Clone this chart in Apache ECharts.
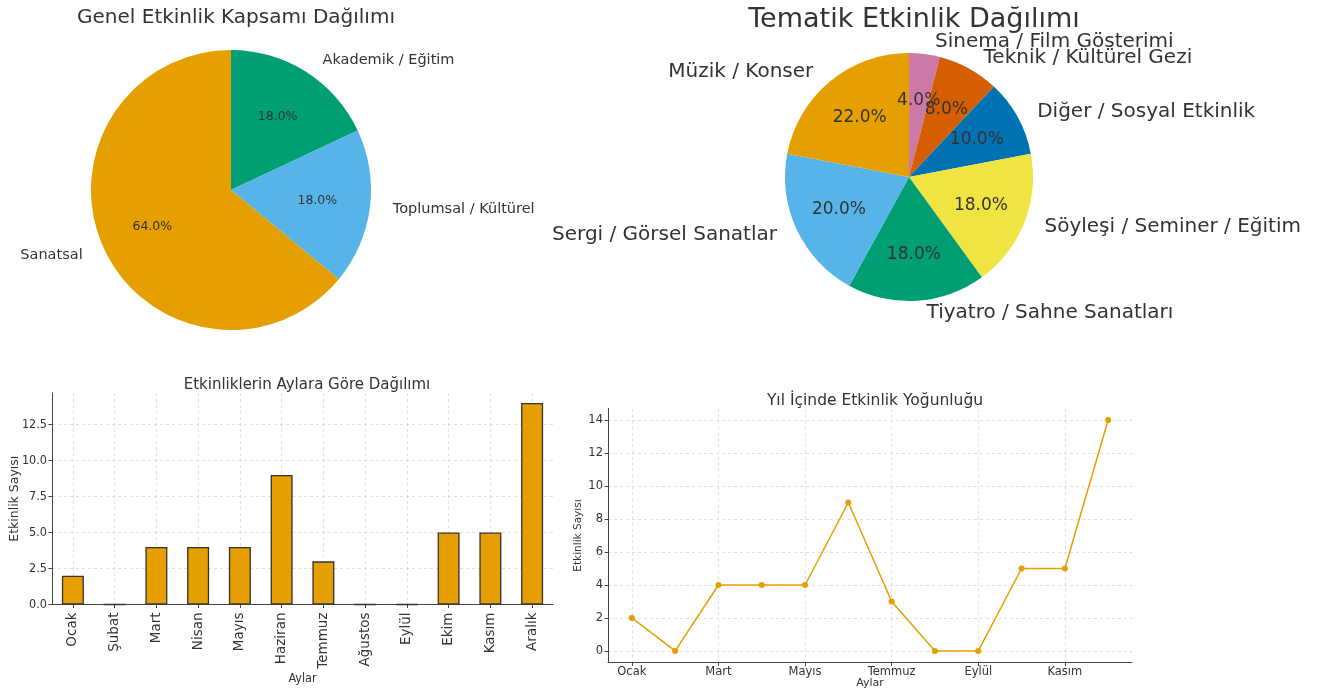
<!DOCTYPE html>
<html>
<head>
<meta charset="utf-8">
<title>Etkinlik Dağılımı</title>
<script src="https://cdn.jsdelivr.net/npm/echarts@6/dist/echarts.min.js"></script>
<style>
    html, body { margin: 0; padding: 0; background: #fff; }
    #wrap { position: relative; width: 1336px; height: 694px; overflow: hidden; }
    .panel { position: absolute; }
    #pie1 { left: 0; top: 0; width: 547px; height: 340px; }
    #pie2 { left: 542px; top: 0; width: 770px; height: 340px; }
    #bar1 { left: 0; top: 360px; width: 570px; height: 334px; }
    #line1 { left: 560px; top: 380px; width: 600px; height: 314px; }
</style>
</head>
<body>
<div id="wrap">
    <div id="pie1" class="panel"></div>
    <div id="pie2" class="panel"></div>
    <div id="bar1" class="panel"></div>
    <div id="line1" class="panel"></div>
</div>
<script>
    // veriler
    var scopeNames = ['Akademik / Eğitim', 'Toplumsal / Kültürel', 'Sanatsal'];
    var scopeCounts = [9, 9, 32];

    var themeNames = ['Sinema / Film Gösterimi', 'Teknik / Kültürel Gezi', 'Diğer / Sosyal Etkinlik',
        'Söyleşi / Seminer / Eğitim', 'Tiyatro / Sahne Sanatları', 'Sergi / Görsel Sanatlar', 'Müzik / Konser'];
    var themeCounts = [2, 4, 5, 9, 9, 10, 11];

    var months = ['Ocak', 'Şubat', 'Mart', 'Nisan', 'Mayıs', 'Haziran', 'Temmuz', 'Ağustos', 'Eylül', 'Ekim', 'Kasım', 'Aralık'];
    var monthCounts = [2, 0, 4, 4, 4, 9, 3, 0, 0, 5, 5, 14];

    var barYTicks = [0, 2.5, 5, 7.5, 10, 12.5];
    var lineYTicks = [0, 2, 4, 6, 8, 10, 12, 14];
    var lineXTicks = [0, 2, 4, 6, 8, 10];

    var scopeColors = ['#009E73', '#56B4E9', '#E69F00'];
    var themeColors = ['#CC79A7', '#D55E00', '#0072B2', '#F0E442', '#009E73', '#56B4E9', '#E69F00'];

    var FONT = 'DejaVu Sans';
    var FONT_C = '"DejaVu Sans Condensed", "DejaVu Sans"';
    var TXT = '#333';
    var gridLine = { show: true, lineStyle: { color: '#d9d9d9', type: [3, 3], width: 0.8 } };
    var spine = { show: true, onZero: false, lineStyle: { color: '#444', width: 1 } };
    var tick = { show: true, length: 3.5, lineStyle: { color: '#444' } };

    function pct(p) { return p.percent.toFixed(1) + '%'; }

    function pieSeries(names, counts, colors, cx, cy, r, nameSize, pctSize, font) {
        var data = names.map(function (n, i) { return { name: n, value: counts[i], itemStyle: { color: colors[i] } }; });
        var ghost = names.map(function (n, i) { return { name: n, value: counts[i] }; });
        return [
            {
                type: 'pie', center: [cx, cy], radius: [0, r],
                startAngle: 90, clockwise: true, avoidLabelOverlap: false,
                silent: true, animation: false,
                labelLayout: { hideOverlap: false },
                label: { show: true, position: 'outside', color: TXT, fontFamily: font, fontSize: nameSize },
                labelLine: { show: false, length: Math.round(r * 0.1), length2: 4 },
                data: data
            },
            {
                type: 'pie', center: [cx, cy], radius: [0, r * 1.2],
                startAngle: 90, clockwise: true, avoidLabelOverlap: false,
                silent: true, animation: false,
                labelLayout: { hideOverlap: false },
                itemStyle: { color: 'rgba(0,0,0,0)' },
                label: { show: true, position: 'inside', formatter: pct, color: TXT, fontFamily: font, fontSize: pctSize },
                labelLine: { show: false },
                data: ghost
            }
        ];
    }

    // 1. genel kapsam
    var c1 = echarts.init(document.getElementById('pie1'));
    c1.setOption({
        animation: false,
        title: {
            text: 'Genel Etkinlik Kapsamı Dağılımı', left: 231, top: 3, textAlign: 'center',
            textStyle: { fontFamily: FONT, fontSize: 20, fontWeight: 'normal', color: TXT }
        },
        series: pieSeries(scopeNames, scopeCounts, scopeColors, 231, 190, 140, 14.5, 12.5, FONT)
    });

    // 2. tematik
    var c2 = echarts.init(document.getElementById('pie2'));
    c2.setOption({
        animation: false,
        title: {
            text: 'Tematik Etkinlik Dağılımı', left: 909 - 542, top: 1, textAlign: 'center',
            textStyle: { fontFamily: FONT, fontSize: 27, fontWeight: 'normal', color: TXT }
        },
        series: pieSeries(themeNames, themeCounts, themeColors, 909 - 542, 177, 124, 20, 17, FONT)
    });

    // 3. aylara göre bar
    var c3 = echarts.init(document.getElementById('bar1'));
    c3.setOption({
        animation: false,
        title: {
            text: 'Etkinliklerin Aylara Göre Dağılımı', left: 302, top: 13, textAlign: 'center',
            textStyle: { fontFamily: FONT, fontSize: 15, fontWeight: 'normal', color: TXT }
        },
        grid: { left: 52, top: 33, width: 501, height: 211.5, outerBoundsMode: 'none', containLabel: false },
        xAxis: {
            type: 'value', min: -0.5, max: 11.5,
            name: 'Aylar', nameLocation: 'middle', nameGap: 68, nameMoveOverlap: false,
            nameTextStyle: { fontFamily: FONT_C, fontSize: 12.5, color: TXT },
            axisLine: spine, axisTick: Object.assign({ customValues: months.map(function (m, i) { return i; }) }, tick),
            splitLine: gridLine,
            axisLabel: {
                customValues: months.map(function (m, i) { return i; }),
                rotate: 90, margin: 8, fontFamily: FONT, fontSize: 13.5, color: TXT,
                formatter: function (v) { return months[Math.round(v)]; }
            }
        },
        yAxis: {
            type: 'value', min: 0, max: 14.7,
            name: 'Etkinlik Sayısı', nameLocation: 'middle', nameGap: 31, nameRotate: 90, nameMoveOverlap: false,
            nameTextStyle: { fontFamily: FONT, fontSize: 12.5, color: TXT },
            axisLine: spine, axisTick: Object.assign({ customValues: barYTicks }, tick),
            splitLine: gridLine,
            axisLabel: {
                customValues: barYTicks, margin: 5, fontFamily: FONT_C, fontSize: 12.5, color: TXT,
                formatter: function (v) { return v.toFixed(1); }
            }
        },
        series: [{
            type: 'bar', barWidth: 22,
            itemStyle: { color: '#E69F00', borderColor: '#333', borderWidth: 1.3 },
            data: monthCounts.map(function (v, i) { return [i, v]; })
        }]
    });

    // 4. yıl içinde yoğunluk
    var c4 = echarts.init(document.getElementById('line1'));
    c4.setOption({
        animation: false,
        title: {
            text: 'Yıl İçinde Etkinlik Yoğunluğu', left: 870 - 560, top: 8, textAlign: 'center',
            textStyle: { fontFamily: FONT, fontSize: 15.5, fontWeight: 'normal', color: TXT }
        },
        grid: { left: 48, top: 28.5, width: 524, height: 254, outerBoundsMode: 'none', containLabel: false },
        xAxis: {
            type: 'value', min: -0.55, max: 11.55,
            name: 'Aylar', nameLocation: 'middle', nameGap: 15, nameMoveOverlap: false,
            nameTextStyle: { fontFamily: FONT, fontSize: 11, color: TXT },
            axisLine: spine, axisTick: Object.assign({ customValues: lineXTicks }, tick),
            splitLine: gridLine,
            axisLabel: {
                customValues: lineXTicks, margin: 4, fontFamily: FONT, fontSize: 11.5, color: TXT,
                formatter: function (v) { return months[Math.round(v)]; }
            }
        },
        yAxis: {
            type: 'value', min: -0.7, max: 14.7,
            name: 'Etkinlik Sayısı', nameLocation: 'middle', nameGap: 24, nameRotate: 90, nameMoveOverlap: false,
            nameTextStyle: { fontFamily: FONT, fontSize: 10.5, color: TXT },
            axisLine: spine, axisTick: Object.assign({ customValues: lineYTicks }, tick),
            splitLine: gridLine,
            axisLabel: { customValues: lineYTicks, margin: 5, fontFamily: FONT, fontSize: 11.5, color: TXT }
        },
        series: [{
            type: 'line', symbol: 'circle', symbolSize: 6,
            lineStyle: { color: '#E69F00', width: 1.5 },
            itemStyle: { color: '#E69F00' },
            data: monthCounts.map(function (v, i) { return [i, v]; })
        }]
    });
</script>
</body>
</html>
